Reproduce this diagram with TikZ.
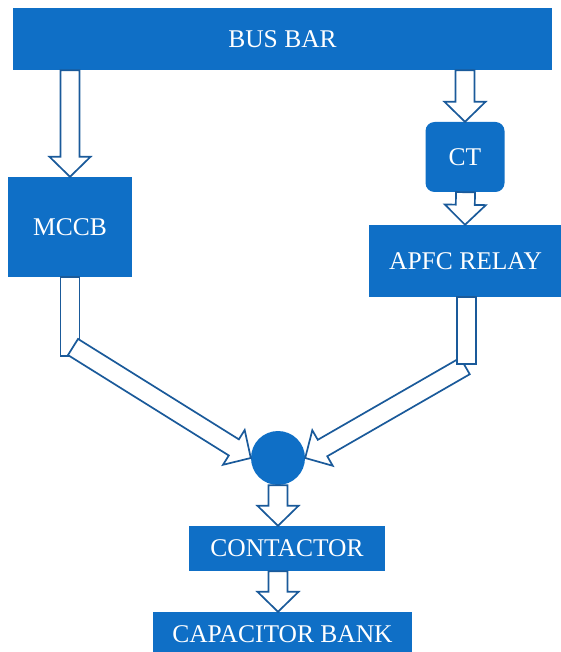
\documentclass[tikz,border=0pt]{standalone}
\usepackage{fontspec}
\setmainfont{Liberation Serif}
\usetikzlibrary{calc}
\definecolor{barblue}{HTML}{0F6FC6}
\definecolor{edgeblue}{HTML}{1A5A9A}
\tikzset{
  box/.style={fill=barblue, text=white, inner sep=0pt,
    font=\fontsize{25.5}{30}\selectfont},
  flow/.style={draw=edgeblue, fill=white, line width=1.7pt, line join=miter},
}
% hollow block arrow from #1 (tail) to #2 (tip)
\newcommand{\blockarrow}[2]{%
  \coordinate (hb) at ($(#2)!20pt!(#1)$);
  \draw[flow] ($(#1)!9.5pt!-90:(#2)$) -- ($(hb)!9.5pt!90:(#1)$)
    -- ($(hb)!20.5pt!90:(#1)$) -- (#2) -- ($(hb)!20.5pt!-90:(#1)$)
    -- ($(hb)!9.5pt!-90:(#1)$) -- ($(#1)!9.5pt!90:(#2)$) -- cycle;}
\begin{document}
\begin{tikzpicture}[x=1pt,y=-1pt]
\useasboundingbox (0,0) rectangle (560,652);
% boxes, top to bottom
\node[box, minimum width=539pt, minimum height=62pt] (bus) at (282.5,39) {BUS BAR};
\node[box, minimum width=124pt, minimum height=100pt] (mccb) at (70,227) {MCCB};
\node[box, rounded corners=9pt, minimum width=79pt, minimum height=70pt] (ct) at (465,157) {CT};
\node[box, minimum width=193pt, minimum height=72pt] (apfc) at (465.5,261) {APFC RELAY};
\node[box, circle, minimum size=54pt] (dot) at (278,458) {};
\node[box, minimum width=196pt, minimum height=45pt] (contactor) at (287,548.5) {CONTACTOR};
\node[box, minimum width=259pt, minimum height=44pt] (capbank) at (282.5,634) {CAPACITOR BANK};
% straight connectors
\coordinate (busL) at (bus.south -| mccb);
\blockarrow{busL}{mccb.north}
\coordinate (busR) at (bus.south -| ct);
\blockarrow{busR}{ct.north}
\coordinate (ctA) at (ct.south -| apfc);
\coordinate (apfcT) at (apfc.north -| ct);
\blockarrow{ctA}{apfcT}
% bent connectors into the joint
\coordinate (mccbB) at (70,356);
\draw[flow] ($(mccb.south)+(-9.5,0)$) rectangle ($(mccbB)+(9.5,0)$);
\coordinate (mccbD) at (73,347);
\blockarrow{mccbD}{dot.west}
\coordinate (apfcD) at (465,366);
\blockarrow{apfcD}{dot.east}
\coordinate (apfcB) at (466.5,364);
\draw[flow] ($(apfc.south -| apfcB)+(-9.5,0)$) rectangle ($(apfcB)+(9.5,0)$);
% joint to the bottom
\coordinate (conT) at (contactor.north -| dot);
\blockarrow{dot.south}{conT}
\coordinate (conB) at (contactor.south -| dot);
\coordinate (capT) at (capbank.north -| dot);
\blockarrow{conB}{capT}
\end{tikzpicture}
\end{document}
